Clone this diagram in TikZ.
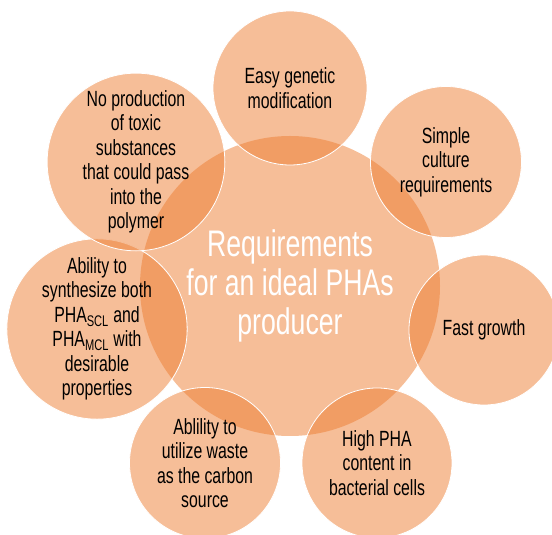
\documentclass[tikz,border=0pt]{standalone}
\usepackage{fontspec}
\setmainfont{Liberation Sans}[FakeStretch=0.72]
\usepackage{tikz}
\definecolor{petal}{HTML}{ED7D31}

\tikzset{
  hub/.style={circle, fill=petal, fill opacity=0.5, text opacity=1, inner sep=0pt,
    minimum size=300pt, align=center, text=white, font=\fontsize{37}{39}\selectfont},
  bubble/.style={circle, fill=petal, fill opacity=0.5, draw=white, draw opacity=1,
    line width=0.8pt, text opacity=1, inner sep=0pt, align=center, text=black,
    font=\fontsize{22}{24.5}\selectfont}
}

\begin{document}
\begin{tikzpicture}[x=1pt, y=1pt]
\useasboundingbox (0,0) rectangle (552,535);
\clip (0,0) rectangle (552,535);

% big circle in the middle
\node[hub] (req) at (290,249) {Requirements\\for an ideal PHAs\\producer};

% ring of requirements, clockwise from the top
\node[bubble, minimum size=154pt] (gene) at (290,447) {Easy genetic\\modification};
\node[bubble, minimum size=151pt] (cult) at (446,373) {Simple\\culture\\requirements};
\node[bubble, minimum size=150pt] (grow) at (484,205) {Fast growth};
\node[bubble, minimum size=150pt] (cont) at (377,72) {High PHA\\content in\\bacterial cells};
\node[bubble, minimum size=151pt] (waste) at (205,72) {Ablility to\\utilize waste\\as the carbon\\source};
\node[bubble, minimum size=172pt] (synth) at (97,206)
  {Ability to\\synthesize both\\PHA\textsubscript{SCL} and\\PHA\textsubscript{MCL} with\\desirable\\properties};
\node[bubble, minimum size=166pt] (toxic) at (136,373)
  {No production\\of toxic\\substances\\that could pass\\into the\\polymer};
\end{tikzpicture}
\end{document}
